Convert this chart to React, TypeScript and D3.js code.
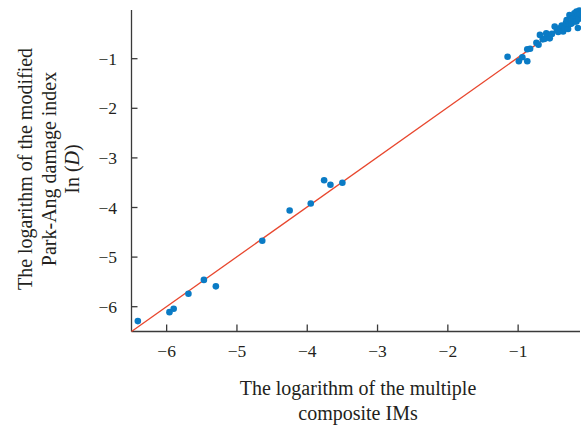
import React from "react";
import * as d3 from "d3";

const xTicks = [-6, -5, -4, -3, -2, -1];
const yTicks = [-6, -5, -4, -3, -2, -1];
const xDomain = [-6.5, -0.12];
const yDomain = [-6.5, 0];

const pointsX = [
  -6.41, -5.96, -5.9, -5.69, -5.47, -5.3, -4.64, -4.25, -3.95, -3.76, -3.67, -3.5,
  -1.15, -0.99, -0.94, -0.87, -0.87, -0.83, -0.74, -0.71, -0.69, -0.65, -0.62, -0.6,
  -0.55, -0.52, -0.48, -0.45, -0.43, -0.4, -0.38, -0.36, -0.34, -0.32, -0.31, -0.29,
  -0.27, -0.26, -0.24, -0.23, -0.22, -0.2, -0.19, -0.17, -0.17, -0.15, -0.15, -0.14,
  -0.13, -0.12,
];
const pointsY = [
  -6.29, -6.11, -6.04, -5.74, -5.46, -5.59, -4.67, -4.06, -3.92, -3.45, -3.54, -3.5,
  -0.96, -1.05, -0.97, -1.05, -0.81, -0.8, -0.68, -0.72, -0.52, -0.61, -0.6, -0.49,
  -0.59, -0.5, -0.35, -0.42, -0.46, -0.38, -0.33, -0.45, -0.39, -0.28, -0.22, -0.4,
  -0.12, -0.3, -0.29, -0.18, -0.19, -0.085, -0.25, -0.25, -0.05, -0.12, -0.38, -0.2,
  -0.03, -0.1,
];

const fitX = [-6.5, -0.12];
const fitY = [-6.5, -0.09];

const xTitle = ["The logarithm of the multiple", "composite IMs"];
const yTitle1 = "The logarithm of the modified";
const yTitle2 = "Park-Ang damage index";

export default function App() {
  const W = 581;
  const H = 430;
  const left = 131.5;
  const right = 580;
  const top = 9.1;
  const bottom = 331.5;
  const x = d3.scaleLinear().domain(xDomain).range([left, right]);
  const y = d3.scaleLinear().domain(yDomain).range([bottom, top]);
  const font = "'Liberation Serif', 'Times New Roman', serif";
  const axisColor = "#3a3a3a";
  const textColor = "#231f20";
  const fit = d3
    .line<number>()
    .x((d) => x(fitX[d]))
    .y((d) => y(fitY[d]));
  const fmt = (v: number) => (v < 0 ? "\u2212" + Math.abs(v) : String(v));

  return (
    <svg
      width={W}
      height={H}
      style={{ position: "absolute", left: 0, top: 0, background: "#fff" }}
      fontFamily={font}
    >
      <rect x={0} y={0} width={W} height={H} fill="#fff" />
      <line x1={left} x2={left} y1={top + 1} y2={bottom} stroke={axisColor} strokeWidth={1.3} />
      <line x1={left} x2={right} y1={bottom} y2={bottom} stroke={axisColor} strokeWidth={1.3} />
      {xTicks.map((t) => (
        <g key={"x" + t}>
          <line x1={x(t)} x2={x(t)} y1={bottom} y2={bottom - 7} stroke={axisColor} strokeWidth={1.3} />
          <text x={x(t)} y={357} textAnchor="middle" fontSize={17.5} fill={textColor}>
            {fmt(t)}
          </text>
        </g>
      ))}
      {yTicks.map((t) => (
        <g key={"y" + t}>
          <line x1={left} x2={left + 6} y1={y(t)} y2={y(t)} stroke={axisColor} strokeWidth={1.3} />
          <text
            x={117}
            y={y(t)}
            dy="0.35em"
            textAnchor="end"
            fontSize={17.5}
            fill={textColor}
          >
            {fmt(t)}
          </text>
        </g>
      ))}
      <path d={fit([0, 1]) || ""} fill="none" stroke="#e8472e" strokeWidth={1.3} />
      {pointsX.map((px, i) => (
        <circle key={i} cx={x(px)} cy={y(pointsY[i])} r={3.3} fill="#0a7bc5" />
      ))}
      <text x={358} y={395} textAnchor="middle" fontSize={20} fill={textColor}>
        {xTitle[0]}
      </text>
      <text x={358} y={420} textAnchor="middle" fontSize={20} fill={textColor}>
        {xTitle[1]}
      </text>
      <g transform="translate(0,169) rotate(-90)">
        <text x={0} y={32} textAnchor="middle" fontSize={20} fill={textColor}>
          {yTitle1}
        </text>
        <text x={0} y={56} textAnchor="middle" fontSize={20} fill={textColor}>
          {yTitle2}
        </text>
        <text x={0} y={79} textAnchor="middle" fontSize={20} fill={textColor}>
          In (<tspan fontStyle="italic">D</tspan>)
        </text>
      </g>
    </svg>
  );
}
